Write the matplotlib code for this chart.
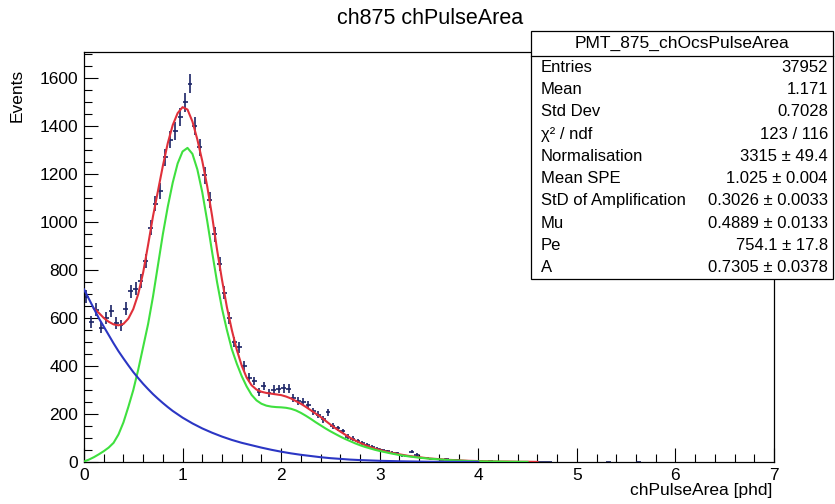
import numpy as np
import matplotlib
matplotlib.use('Agg')
import matplotlib.pyplot as plt
from matplotlib.patches import Rectangle
from matplotlib.ticker import MultipleLocator

plt.rcParams['font.family'] = ['Liberation Sans', 'DejaVu Sans']

# histogram: bin width 0.05 phd, counts
bin_width = 0.05
counts = [690, 585, 636, 560, 602, 630, 580, 570, 640, 712,
          722, 755, 840, 978, 1078, 1130, 1270, 1345, 1380, 1440,
          1500, 1578, 1400, 1312, 1195, 1092, 950, 826, 706, 600,
          500, 478, 400, 352, 338, 292, 316, 286, 302, 305,
          307, 306, 268, 255, 252, 238, 212, 198, 178, 208,
          150, 140, 128, 106, 97, 88, 80, 70, 62, 54,
          49, 44, 38, 36, 28, 26, 42, 30, 18, 17,
          14, 12, 10, 12, 8, 7, 6, 5, 4, 4,
          3, 2, 3, 2, 1, 2, 1, 1, 1, 0,
          1, 0, 1, 1, 1, 0, 0, 0, 0, 0,
          0, 0, 0, 0, 0, 0, 1, 0, 0, 0,
          0, 0, 1]

# fit curves
red_x = [0.10, 0.15, 0.20, 0.25, 0.30, 0.35, 0.40, 0.45, 0.50, 0.55,
         0.60, 0.65, 0.70, 0.75, 0.80, 0.85, 0.90, 0.95, 1.00, 1.05,
         1.10, 1.15, 1.20, 1.25, 1.30, 1.35, 1.40, 1.45, 1.50, 1.55,
         1.60, 1.65, 1.70, 1.75, 1.80, 1.85, 1.90, 1.95, 2.00, 2.05,
         2.10, 2.15, 2.20, 2.25, 2.30, 2.35, 2.40, 2.45, 2.50, 2.55,
         2.60, 2.65, 2.70, 2.75, 2.80, 2.85, 2.90, 2.95, 3.00, 3.10,
         3.20, 3.30, 3.40, 3.50, 3.60, 3.70, 3.80, 3.90, 4.00, 4.10,
         4.20, 4.30, 4.40, 4.50, 4.60]
red_y = [640, 622, 601, 585, 574, 570, 576, 598, 638, 700,
         790, 905, 1025, 1130, 1235, 1330, 1405, 1455, 1480, 1470,
         1420, 1345, 1255, 1150, 1025, 885, 760, 645, 550, 468,
         402, 352, 320, 302, 293, 288, 285, 282, 279, 273,
         265, 254, 243, 230, 216, 202, 188, 172, 156, 141,
         127, 114, 101, 90, 80, 71, 63, 56, 50, 40,
         32, 25, 20, 15, 12, 9, 7, 5, 4, 3,
         2, 2, 1, 1, 0.5]

green_x = [0.00, 0.05, 0.10, 0.15, 0.20, 0.25, 0.30, 0.35, 0.40, 0.45,
           0.50, 0.55, 0.60, 0.65, 0.70, 0.75, 0.80, 0.85, 0.90, 0.95,
           1.00, 1.05, 1.10, 1.15, 1.20, 1.25, 1.30, 1.35, 1.40, 1.45,
           1.50, 1.55, 1.60, 1.65, 1.70, 1.75, 1.80, 1.85, 1.90, 1.95,
           2.00, 2.05, 2.10, 2.15, 2.20, 2.25, 2.30, 2.35, 2.40, 2.45,
           2.50, 2.55, 2.60, 2.65, 2.70, 2.75, 2.80, 2.85, 2.90, 2.95,
           3.00, 3.10, 3.20, 3.30, 3.40, 3.50, 3.60, 3.70, 3.80, 3.90,
           4.00, 4.10, 4.20, 4.30, 4.40, 4.50]
green_y = [2, 10, 20, 32, 45, 60, 80, 115, 165, 230,
           300, 385, 480, 575, 690, 820, 950, 1065, 1165, 1245,
           1295, 1310, 1285, 1220, 1125, 1005, 875, 750, 640, 550,
           470, 410, 358, 315, 280, 257, 243, 235, 231, 229,
           228, 226, 222, 215, 205, 193, 180, 166, 153, 140,
           128, 117, 106, 96, 87, 78, 70, 63, 57, 51,
           46, 37, 29, 23, 18, 14, 11, 8, 6, 4,
           3, 2, 2, 1, 1, 0.5]

blue_x = [0.00, 0.05, 0.10, 0.15, 0.20, 0.25, 0.30, 0.35, 0.40, 0.45,
          0.50, 0.55, 0.60, 0.65, 0.70, 0.75, 0.80, 0.85, 0.90, 0.95,
          1.00, 1.10, 1.20, 1.30, 1.40, 1.50, 1.60, 1.70, 1.80, 1.90,
          2.00, 2.10, 2.20, 2.30, 2.40, 2.50, 2.60, 2.70, 2.80, 3.00,
          3.20, 3.50, 4.00]
blue_y = [720, 680, 640, 600, 565, 530, 495, 462, 432, 403,
          375, 350, 326, 304, 283, 264, 246, 229, 213, 199,
          185, 161, 140, 122, 106, 92, 80, 70, 60, 51,
          43, 36, 30, 25, 20, 16, 13, 10, 8, 5,
          3, 1, 0.3]

stats_rows = [
    ('Entries', '37952'),
    ('Mean', '1.171'),
    ('Std Dev', '0.7028'),
    ('\u03c7\u00b2 / ndf', '123 / 116'),
    ('Normalisation', '3315 \u00b1 49.4'),
    ('Mean SPE', '1.025 \u00b1 0.004'),
    ('StD of Amplification', '0.3026 \u00b1 0.0033'),
    ('Mu', '0.4889 \u00b1 0.0133'),
    ('Pe', '754.1 \u00b1 17.8'),
    ('A', '0.7305 \u00b1 0.0378'),
]

W, H = 835, 504
fig = plt.figure(figsize=(W / 100, H / 100), dpi=100)
ax = fig.add_axes([84 / W, 42 / H, 690 / W, 410 / H])

counts = np.array(counts, dtype=float)
centers = bin_width * (np.arange(len(counts)) + 0.5)
filled = counts > 0
ax.errorbar(centers[filled], counts[filled], xerr=bin_width / 2,
            yerr=np.sqrt(counts[filled]), fmt='none', ecolor='#1b2466',
            elinewidth=1.2, capsize=0, zorder=2)

ax.plot(red_x, red_y, color='#e0303a', lw=1.5, zorder=3)
ax.plot(green_x, green_y, color='#3fe03f', lw=1.5, zorder=3)
ax.plot(blue_x, blue_y, color='#2b36c4', lw=1.5, zorder=3)

ax.set_xlim(0, 7)
ax.set_ylim(0, 1710)
ax.xaxis.set_major_locator(MultipleLocator(1))
ax.xaxis.set_minor_locator(MultipleLocator(0.2))
ax.yaxis.set_major_locator(MultipleLocator(200))
ax.yaxis.set_minor_locator(MultipleLocator(50))
ax.tick_params(which='both', direction='in', top=False, right=False,
               labelsize=12.5, width=0.8)
ax.tick_params(which='major', length=10, pad=4)
ax.tick_params(which='minor', length=5.5)
for s in ax.spines.values():
    s.set_linewidth(0.9)

fig.text(430 / W, 1 - 18 / H, 'ch875 chPulseArea', ha='center', va='center',
         fontsize=15.5)
fig.text(17 / W, 1 - 95 / H, 'Events', rotation=90, ha='center', va='center',
         fontsize=12.5)
fig.text(772 / W, 1 - 491 / H, 'chPulseArea [phd]', ha='right', va='center',
         fontsize=12.5)

# stats box
bx0, bx1, by0, by1 = 531, 833, 31, 279
fig.patches.append(Rectangle((bx0 / W, 1 - by1 / H), (bx1 - bx0) / W,
                             (by1 - by0) / H, transform=fig.transFigure,
                             facecolor='white', edgecolor='black', lw=0.9,
                             zorder=5))
fig.lines.append(plt.Line2D([bx0 / W, bx1 / W], [1 - 56 / H, 1 - 56 / H],
                            transform=fig.transFigure, color='black', lw=0.9,
                            zorder=6))
fig.text((bx0 + bx1) / 2 / W, 1 - 43.5 / H, 'PMT_875_chOcsPulseArea',
         ha='center', va='center', fontsize=12.5, zorder=7)
row_h = (by1 - 56) / len(stats_rows)
for i, (name, val) in enumerate(stats_rows):
    yy = 1 - (56 + row_h * (i + 0.5)) / H
    fig.text(541 / W, yy, name, ha='left', va='center', fontsize=12, zorder=7)
    fig.text(828 / W, yy, val, ha='right', va='center', fontsize=12, zorder=7)

fig.savefig('out.png', dpi=100)
